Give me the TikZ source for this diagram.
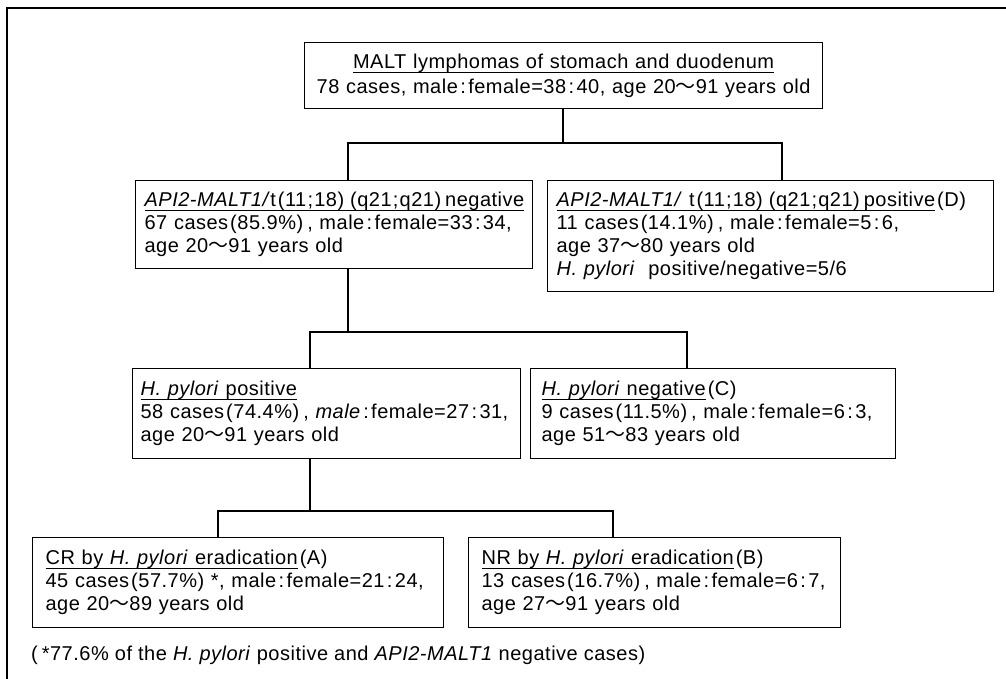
\documentclass[tikz,border=0pt]{standalone}
\usepackage{fontspec}
\setmainfont{Liberation Sans}[LetterSpace=2.5]
\newfontfamily\cjk{Noto Sans CJK JP}
\newcommand{\lpar}{\hspace{0.1em}(}
\newcommand{\rpar}{)\hspace{0.2em}}
\newcommand{\fcol}{\hspace{0.12em}:\hspace{0.12em}}
\newcommand{\fsemi}{\hspace{0.06em};\hspace{0.06em}}
\newcommand{\wav}{{\cjk ～}}
\newcommand{\ul}[1]{\setbox0\hbox{#1}\rlap{\rule[-4.6pt]{\wd0}{0.9pt}}\box0}
\newcommand{\fs}{\fontsize{20pt}{23pt}\selectfont}
\tikzset{
  box/.style={draw, line width=1.2pt, anchor=north west, align=left, inner xsep=9pt, inner ysep=0pt, font=\fs},
  conn/.style={line width=1.1pt},
}
\begin{document}
\begin{tikzpicture}[x=1pt,y=1pt]
\useasboundingbox (0,0) rectangle (1006,-679);
% outer frame (cropped)
\draw[line width=1.4pt] (7,-679) -- (7,-8) -- (1006,-8);

\node[box, align=center, minimum width=518pt, text width=500pt, minimum height=66pt, font=\fontsize{20pt}{25pt}\selectfont] (top) at (304,-42)
 {\mbox{\ul{MALT lymphomas of stomach and duodenum}}\\
  \mbox{78 cases, male\fcol female=38\fcol 40, age 20\wav 91 years old}};

\node[box, minimum width=397pt, text width=379pt, minimum height=88pt] (neg) at (135,-180)
 {\mbox{\ul{\textit{API2-MALT1/}t\lpar 11\fsemi 18\rpar\lpar q21\fsemi q21\rpar negative}}\\
  \mbox{67 cases\lpar 85.9\%\rpar, male\fcol female=33\fcol 34,}\\
  \mbox{age 20\wav 91 years old}};

\node[box, minimum width=446pt, text width=428pt, minimum height=111pt] (pos) at (547,-180)
 {\mbox{\ul{\textit{API2-MALT1/} t\lpar 11\fsemi 18\rpar\lpar q21\fsemi q21\rpar positive}\lpar D)}\\
  \mbox{11 cases\lpar 14.1\%\rpar, male\fcol female=5\fcol 6,}\\
  \mbox{age 37\wav 80 years old}\\
  \mbox{\textit{H. pylori}\ \ positive/negative=5/6}};

\node[box, minimum width=388pt, text width=372pt, minimum height=90pt, inner xsep=8pt] (hpp) at (132,-368)
 {\mbox{\ul{\textit{H. pylori} positive}}\\
  \mbox{58 cases\lpar 74.4\%\rpar, \textit{male}\fcol female=27\fcol 31,}\\
  \mbox{age 20\wav 91 years old}};

\node[box, minimum width=365pt, text width=343pt, minimum height=90pt, inner xsep=11pt] (hpn) at (530,-368)
 {\mbox{\ul{\textit{H. pylori} negative}\lpar C)}\\
  \mbox{9 cases\lpar 11.5\%\rpar, male\fcol female=6\fcol 3,}\\
  \mbox{age 51\wav 83 years old}};

\node[box, minimum width=411pt, text width=385pt, minimum height=90pt, inner xsep=13pt] (cr) at (32,-537)
 {\mbox{\ul{CR by \textit{H. pylori} eradication}\lpar A)}\\
  \mbox{45 cases\lpar 57.7\%) *, male\fcol female=21\fcol 24,}\\
  \mbox{age 20\wav 89 years old}};

\node[box, minimum width=372pt, text width=346pt, minimum height=90pt, inner xsep=13pt] (nr) at (468,-537)
 {\mbox{\ul{NR by \textit{H. pylori} eradication}\lpar B)}\\
  \mbox{13 cases\lpar 16.7\%\rpar, male\fcol female=6\fcol 7,}\\
  \mbox{age 27\wav 91 years old}};

\node[anchor=west, inner sep=0pt, font=\fs] (note) at (31,-655)
 {(\hspace{0.2em}*77.6\% of the \textit{H. pylori} positive and \textit{API2-MALT1} negative cases)};

% connectors
\coordinate (j1) at (563,-143);
\coordinate (j1l) at (348,-143);
\coordinate (j1r) at (782,-143);
\coordinate (j2) at (348,-332);
\coordinate (j2l) at (310,-332);
\coordinate (j2r) at (687,-332);
\coordinate (j3) at (310,-511);
\coordinate (j3l) at (218,-511);
\coordinate (j3r) at (613,-511);
\draw[conn] (top.south -| j1) -- (j1);
\draw[conn] (neg.north -| j1l) -- (j1l) -- (j1r) -- (pos.north -| j1r);
\draw[conn] (neg.south -| j2) -- (j2);
\draw[conn] (hpp.north -| j2l) -- (j2l) -- (j2r) -- (hpn.north -| j2r);
\draw[conn] (hpp.south -| j3) -- (j3);
\draw[conn] (cr.north -| j3l) -- (j3l) -- (j3r) -- (nr.north -| j3r);
\end{tikzpicture}
\end{document}
